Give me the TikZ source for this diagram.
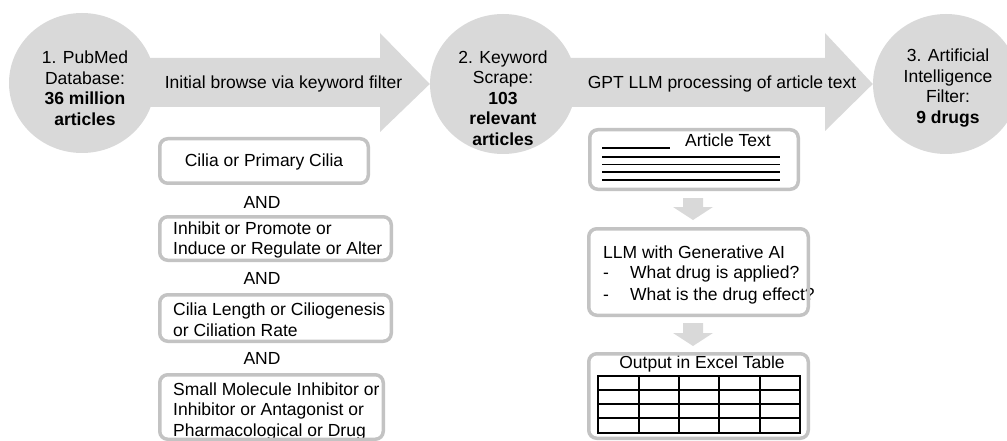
\documentclass[tikz,border=0pt]{standalone}
\usepackage{fontspec}
\setmainfont{Liberation Sans}
\usetikzlibrary{shapes.geometric}
\definecolor{arrowgray}{HTML}{D9D9D9}
\definecolor{boxgray}{HTML}{C3C3C3}
\begin{document}
\begin{tikzpicture}[x=1pt,y=-1pt,
  txt/.style={font=\fontsize{17.5}{20.5}\selectfont, inner sep=0pt, text=black},
  stage/.style={ellipse, fill=arrowgray, minimum width=146pt, minimum height=140pt, inner sep=0pt},
  bigarrow/.style={fill=arrowgray},
  kbox/.style={rectangle, draw=boxgray, line width=3.5pt, rounded corners=8pt, inner sep=0pt},
  rule/.style={line width=1.5pt, black},
  grid/.style={line width=1.1pt, black}
]
\useasboundingbox (0,0) rectangle (1007,441);

% stages
\node[stage] (c1) at (82,83) {};
\node[stage] (c2) at (503,84) {};
\node[stage] (c3) at (946,84) {};

% big arrows
\fill[bigarrow] (150,58) -- (380,58) -- (380,33) -- (c2.west) -- (380,132) -- (380,107) -- (150,107) -- cycle;
\fill[bigarrow] (570,58) -- (825,58) -- (825,33) -- (c3.west) -- (825,131) -- (825,107) -- (570,107) -- cycle;

\node[txt] (a1) at (283.5,84) {Initial browse via keyword filter};
\node[txt] (a2) at (722,84) {GPT LLM processing of article text};

\node[txt, align=center] (t1) at (85,88) {1. PubMed\\Database:\\\textbf{36 million}\\\textbf{articles}};
\node[txt, align=center] (t2) at (503,98) {2. Keyword\\Scrape:\\\textbf{103}\\\textbf{relevant}\\\textbf{articles}};
\node[txt, align=center] (t3) at (948,88) {3. Artificial\\Intelligence\\Filter:\\\textbf{9 drugs}};

% left column texts
\node[txt] (k1) at (264,162) {Cilia or Primary Cilia};
\node[txt] (and1) at (262,202) {AND};
\node[txt, align=left, anchor=west] (k2) at (173,240) {Inhibit or Promote or\\Induce or Regulate or Alter};
\node[txt] (and2) at (262,278) {AND};
\node[txt, align=left, anchor=west] (k3) at (173,319.5) {Cilia Length or Ciliogenesis\\or Ciliation Rate};
\node[txt] (and3) at (262,358) {AND};
\node[txt, align=left, anchor=west] (k4) at (173,411) {Small Molecule Inhibitor or\\Inhibitor or Antagonist or\\Pharmacological or Drug};

% right column: article text
\node[txt] (art) at (728,140) {Article Text};
\draw[rule] (602,148) -- (670,148);
\foreach \yy in {157,164.5,172,180} \draw[rule] (602,\yy) -- (780,\yy);

% down arrows
\coordinate (d1tip) at (693,220);
\coordinate (d2tip) at (693,346);
\fill[arrowgray] (683,198) -- (703,198) -- (703,207) -- (713,207) -- (d1tip) -- (673,207) -- (683,207) -- cycle;
\fill[arrowgray] (683,323) -- (703,323) -- (703,333) -- (713,333) -- (d2tip) -- (673,333) -- (683,333) -- cycle;

% LLM texts
\node[txt, anchor=west] (l1) at (603,252) {LLM with Generative AI};
\node[txt, anchor=west] (l2) at (603,274) {\makebox[27pt][l]{-}What drug is applied?};
\node[txt, anchor=west] (l3) at (603,296) {\makebox[27pt][l]{-}What is the drug effect?};

% Excel
\node[txt] (ex) at (702,364) {Output in Excel Table};
\draw[grid] (598,376) rectangle (800,433);
\foreach \xx in {639,679,719,760} \draw[grid] (\xx,376) -- (\xx,433);
\foreach \yy in {390,404,418} \draw[grid] (598,\yy) -- (800,\yy);

% boxes
\node[kbox, minimum width=208.5pt, minimum height=44.5pt] (b1) at (264,161) {};
\node[kbox, minimum width=231.5pt, minimum height=43.5pt] (b2) at (275.5,238.5) {};
\node[kbox, minimum width=231.5pt, minimum height=46.5pt] (b3) at (275.5,318) {};
\node[kbox, minimum width=223.5pt, minimum height=64.5pt] (b4) at (271.5,407) {};
\node[kbox, minimum width=208.5pt, minimum height=59.5pt] (r1) at (694,159.5) {};
\node[kbox, minimum width=219.5pt, minimum height=86.5pt] (r2) at (698.5,272) {};
\node[kbox, minimum width=219.5pt, minimum height=84.5pt] (r3) at (698.5,396) {};
\end{tikzpicture}
\end{document}
